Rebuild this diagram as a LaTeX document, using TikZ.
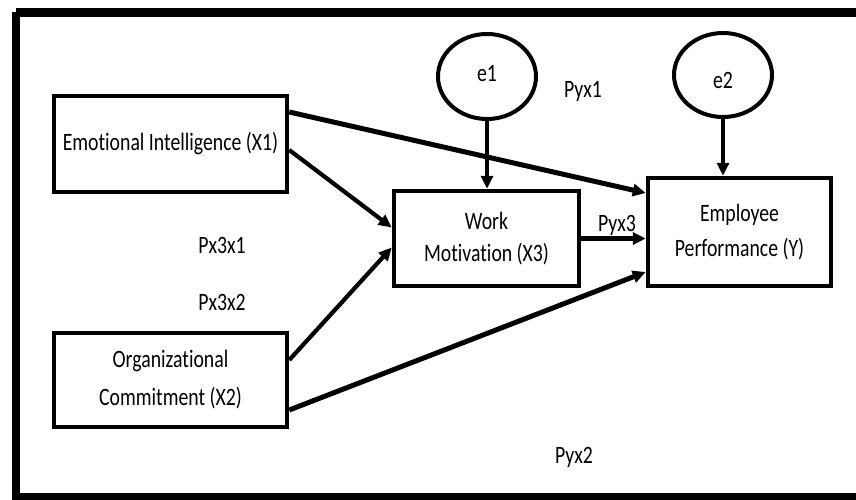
\documentclass[tikz,border=0pt]{standalone}
\usepackage{fontspec}
\setmainfont{Carlito}[FakeStretch=0.79,Ligatures=NoCommon]
\usetikzlibrary{arrows.meta,shapes.geometric}
\tikzset{
  box/.style={draw, line width=4.5pt, rectangle, align=center, inner sep=0pt},
  err/.style={draw, line width=4pt, ellipse, inner sep=0pt},
  lbl/.style={inner sep=0pt},
  path/.style={line width=4.2pt, -{Triangle[length=13pt,width=12pt]}},
  heavy/.style={line width=5pt, -{Triangle[length=13pt,width=12pt]}},
}
\begin{document}
\begin{tikzpicture}[x=1pt,y=-1pt,font=\fontsize{25}{32}\selectfont]
\clip (0,0) rectangle (856,500);
\fill[white] (0,0) rectangle (856,500);
% outer frame
\draw[line width=9pt] (16,12.5) -- (880,12.5);
\draw[line width=8pt] (16,12.5) -- (16,497) -- (880,497);
% boxes
\node[box, minimum width=233pt, minimum height=96pt] (X1) at (170.5,144) {Emotional Intelligence (X1)};
\node[box, minimum width=233pt, minimum height=94pt, font=\fontsize{25}{38}\selectfont] (X2) at (170.5,380) {Organizational\\Commitment (X2)};
\node[box, minimum width=185pt, minimum height=95pt, font=\fontsize{25}{32}\selectfont] (X3) at (486.5,238.5) {Work\\Motivation (X3)};
\node[box, minimum width=183pt, minimum height=108pt, font=\fontsize{25}{35}\selectfont] (Y) at (739.5,232) {Employee\\Performance (Y)};
\node[err, minimum width=98pt, minimum height=85pt] (e1) at (487,76.5) {};
\node[lbl] (e1t) at (487,74) {e1};
\node[err, minimum width=98pt, minimum height=84pt] (e2) at (723,75) {};
\node[lbl] (e2t) at (723,80) {e2};
% labels
\node[lbl] (pyx1) at (583,91) {Pyx1};
\node[lbl] (pyx3) at (617,225) {Pyx3};
\node[lbl] (px3x1) at (222,245) {Px3x1};
\node[lbl] (px3x2) at (222,302) {Px3x2};
\node[lbl] (pyx2) at (574,457) {Pyx2};
% connectors
\draw[heavy] ([yshift=32pt]X1.east) -- ([yshift=39pt]Y.west);
\draw[path] ([yshift=-6pt]X1.east) -- ([yshift=11pt]X3.west);
\draw[path] ([yshift=20pt]X2.east) -- ([yshift=-9pt]X3.west);
\draw[heavy] ([yshift=-30pt]X2.east) -- ([yshift=-40pt]Y.west);
\draw[heavy] (X3.east) -- (X3.east -| Y.west);
\draw[path, line width=3.5pt] (e1.south) -- (e1.south |- X3.north);
\draw[path, line width=3.5pt] (e2.south) -- (e2.south |- Y.north);
\end{tikzpicture}
\end{document}
